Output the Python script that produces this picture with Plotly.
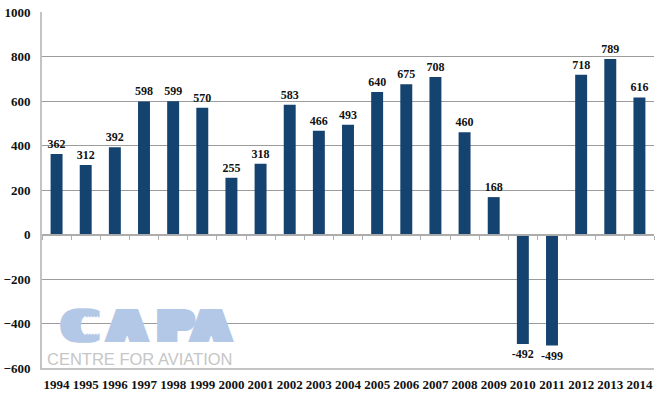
import plotly.graph_objects as go

years = [str(y) for y in range(1994, 2015)]
values = [362, 312, 392, 598, 599, 570, 255, 318, 583, 466, 493, 640, 675, 708, 460, 168, -492, -499, 718, 789, 616]
y_ticks = [-600, -400, -200, 0, 200, 400, 600, 800, 1000]

BAR = "#15436f"
LOGO = "#b3c8e6"
idx = list(range(len(years)))

fig = go.Figure()
fig.add_trace(go.Bar(
    x=idx, y=values, width=0.41, marker=dict(color=BAR, line=dict(width=0)),
    text=[str(v) for v in values], textposition="outside", cliponaxis=False,
    constraintext="none",
    textfont=dict(family="Liberation Serif", size=12, color="#111111", weight="bold"),
    showlegend=False, hoverinfo="skip",
))
# dummy trace for the zero-line tick axis
fig.add_trace(go.Scatter(x=[0], y=[None], xaxis="x2", yaxis="y", mode="markers",
                         showlegend=False, hoverinfo="skip"))

W, H = 665, 398
L, R, T, B = 42, 11, 12, 30
pw, ph = W - L - R, H - T - B

def px(x):
    return (x - L) / pw

def py(y):
    return (H - B - y) / ph

sh = ", ".join(f"{d}px 0 0 {LOGO}" for d in (-6, -3, 3, 6))
ann = []
for ch, cx in zip("CAPA", [80, 127, 175, 211]):
    ann.append(dict(text="<b>" + ch + "</b>", x=px(cx), y=py(326), xref="paper", yref="paper",
                    xanchor="center", yanchor="middle", showarrow=False,
                    font=dict(family="DejaVu Sans", size=44, color=LOGO, weight="bold", shadow=sh)))
ann.append(dict(text="CENTRE FOR AVIATION", x=px(45), y=py(359), xref="paper", yref="paper",
                xanchor="left", yanchor="middle", showarrow=False,
                font=dict(family="Liberation Sans", size=16.5, color="#c6c6c6")))

fig.update_layout(
    width=W, height=H, margin=dict(l=L, r=R, t=T, b=B, autoexpand=False),
    paper_bgcolor="white", plot_bgcolor="white",
    xaxis=dict(range=[-0.5, 20.5], tickmode="array", tickvals=idx, ticktext=years,
               showgrid=False, zeroline=False, showline=True, linecolor="#c4c4c4", linewidth=2,
               ticks="", tickfont=dict(family="Liberation Serif", size=13, color="#111111", weight="bold"),
               ticklabelstandoff=3, fixedrange=True, automargin=False),
    xaxis2=dict(overlaying="x", matches="x", anchor="free", position=0.375,
                tickmode="array", tickvals=[i - 0.5 for i in range(len(years) + 1)],
                showticklabels=False, ticks="outside", ticklen=4, tickcolor="#b0b0b0",
                showline=True, linecolor="#acacac", linewidth=2, showgrid=False, zeroline=False,
                automargin=False),
    yaxis=dict(range=[-600, 1000], tickmode="array", tickvals=y_ticks,
               showgrid=True, gridcolor="#9c9c9c", gridwidth=1, zeroline=False,
               showline=True, linecolor="#c4c4c4", linewidth=2, ticks="",
               tickfont=dict(family="Liberation Serif", size=13, color="#111111", weight="bold"),
               ticklabelstandoff=7, automargin=False),
    annotations=ann,
)

fig.write_html("out.html", post_script="document.body.style.margin='0';",
               config={"displayModeBar": False})
